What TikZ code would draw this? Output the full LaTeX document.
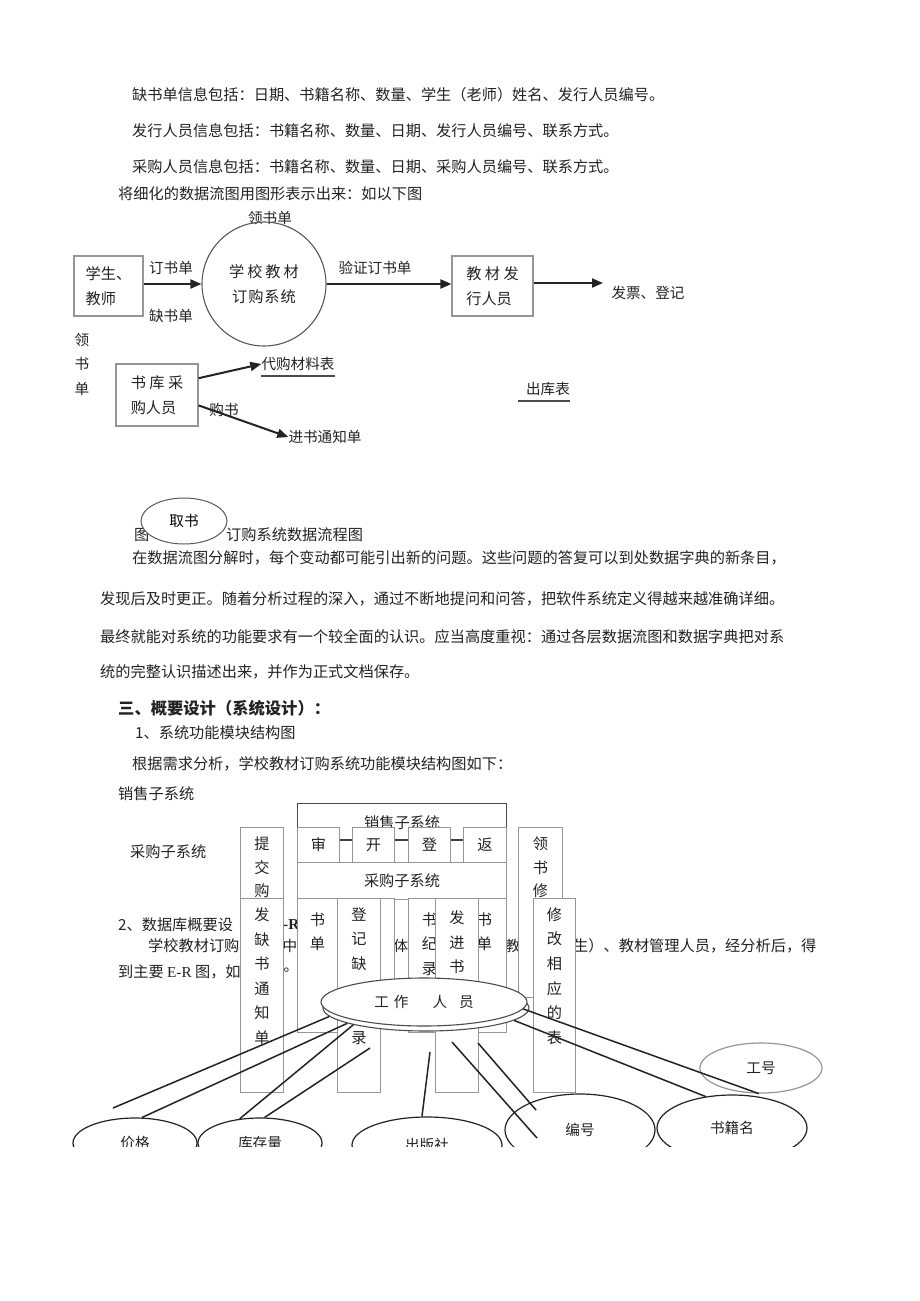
\documentclass[tikz,border=0pt]{standalone}
\usepackage{fontspec}
\setmainfont{Noto Sans CJK SC}
\newfontfamily\latinfont{Liberation Serif}
\usetikzlibrary{arrows.meta,positioning,shapes.geometric}
\definecolor{inkdark}{RGB}{35,35,35}
\definecolor{boxgray}{RGB}{150,150,150}
\tikzset{
  body/.style={anchor=west, inner sep=0pt, text=inkdark, font=\fontsize{15.2}{18}\selectfont},
  lbl/.style={inner sep=0pt, text=inkdark, font=\fontsize{14.6}{18}\selectfont},
  dfdbox/.style={rectangle, draw=boxgray, line width=1.1pt, fill=white, align=left,
                 inner sep=0pt, text=inkdark, font=\fontsize{15.2}{25}\selectfont},
  arr/.style={-{Triangle[length=11pt,width=9pt]}, line width=2pt, draw=inkdark},
  uline/.style={line width=2.2pt, draw=black!70},
  modbox/.style={rectangle, draw=boxgray, line width=1pt, fill=white, anchor=north west,
                 inner sep=0pt, text=inkdark, font=\fontsize{15.2}{18}\selectfont},
  vtext/.style={inner sep=0pt, align=center, text=inkdark, font=\fontsize{15.2}{24.6}\selectfont},
  link/.style={line width=1.6pt, draw=black!75},
  erline/.style={line width=1.5pt, draw=inkdark},
  attr/.style={ellipse, draw=inkdark, line width=1.2pt, inner sep=0pt, text=inkdark,
               font=\fontsize{14.6}{18}\selectfont},
}

\begin{document}
\begin{tikzpicture}[x=1pt, y=-1pt]
  \useasboundingbox[fill=white] (0,0) rectangle (920,1301);

  % text above the data flow diagram
  \node[body] (info1) at (132,95) {缺书单信息包括：日期、书籍名称、数量、学生（老师）姓名、发行人员编号。};
  \node[body] (info2) at (132,131) {发行人员信息包括：书籍名称、数量、日期、发行人员编号、联系方式。};
  \node[body] (info3) at (132,167) {采购人员信息包括：书籍名称、数量、日期、采购人员编号、联系方式。};
  \node[body] (intro) at (118,194) {将细化的数据流图用图形表示出来：如以下图};

  % data flow diagram
  \node[lbl] (lsd) at (270,218) {领书单};
  \node[dfdbox, minimum width=69pt, minimum height=60pt] (stu) at (108.5,286) {学生、\\教师};
  \node[circle, draw=black!65, line width=1.1pt, minimum size=124pt, inner sep=0pt,
        align=center, text=inkdark, font=\fontsize{15.2}{25}\selectfont] (sys) at (264,284)
        {学\hspace{3pt}校\hspace{3pt}教\hspace{3pt}材\\订\hspace{1pt}购\hspace{1pt}系\hspace{1pt}统};
  \node[dfdbox, minimum width=81pt, minimum height=60pt] (pub) at (492.5,286) {教 材 发\\行人员};
  \coordinate (invEnd) at (603,283);
  \node[lbl] (inv) at (648,293) {发票、登记};

  \draw[arr] (stu.east |- sys) -- (sys);
  \draw[arr] (sys.east) -- (sys.east -| pub.west);
  \draw[arr] (pub.east |- invEnd) -- (invEnd);
  \node[lbl] (dsd) at (171,268) {订书单};
  \node[lbl] (qsd) at (171,316) {缺书单};
  \node[lbl] (yzd) at (375,268) {验证订书单};

  \node[vtext, font=\fontsize{14.6}{24.5}\selectfont] (lsdv) at (82,364) {领\\书\\单};

  \node[dfdbox, minimum width=82pt, minimum height=62pt] (buyer) at (157,395) {书 库 采\\购人员};
  \node[lbl] (daigou) at (298,364) {代购材料表};
  \draw[uline] ([yshift=-5pt]daigou.south west) -- ([yshift=-5pt]daigou.south east);
  \node[lbl] (gs) at (224,410) {购书};
  \node[lbl] (jstz) at (325,437) {进书通知单};
  \draw[arr] (buyer.22) -- (daigou.west);
  \draw[arr] (buyer.-14) -- (jstz.west);

  \node[lbl] (ckb) at (548,389) {出库表};
  \draw[uline] ([yshift=-5pt]ckb.south west) ++(-8,0) -- ([yshift=-5pt]ckb.south east);

  \node[body] (capA) at (134,535) {图};
  \node[body] (capB) at (226,535) {订购系统数据流程图};
  \node[ellipse, draw=black!65, line width=1pt, fill=white, minimum width=86pt,
        minimum height=46pt, inner sep=0pt, text=black, font=\fontsize{14.6}{18}\selectfont]
        (qs) at (184,521) {取书};

  % paragraph
  \node[body] (p1) at (132,558) {在数据流图分解时，每个变动都可能引出新的问题。这些问题的答复可以到处数据字典的新条目，};
  \node[body] (p2) at (100,599) {发现后及时更正。随着分析过程的深入，通过不断地提问和问答，把软件系统定义得越来越准确详细。};
  \node[body] (p3) at (100,637) {最终就能对系统的功能要求有一个较全面的认识。应当高度重视：通过各层数据流图和数据字典把对系};
  \node[body] (p4) at (100,672) {统的完整认识描述出来，并作为正式文档保存。};

  \node[body, font=\fontsize{16.3}{18}\bfseries] (sec3) at (118,708) {三、概要设计（系统设计）：};
  \node[body] (sub1) at (135,733) {1、系统功能模块结构图};
  \node[body] (need) at (132,764) {根据需求分析，学校教材订购系统功能模块结构图如下：};
  \node[body] (xs) at (118,794) {销售子系统};
  \node[body] (cg) at (130,852) {采购子系统};

  % text seen between the modules
  \node[body] (sub2) at (118,925) {2、数据库概要设};
  \node[body, font=\fontsize{15.2}{18}\latinfont\bfseries] (erA) at (283,925) {-R};
  \node[body] (er2a) at (148,946) {学校教材订购};
  \node[lbl] (er2b) at (290,946) {中};
  \node[lbl] (er2c) at (401,946) {体};
  \node[lbl] (er2d) at (513,946) {教};
  \node[body] (er2e) at (573,946) {生）、教材管理人员，经分析后，得};
  \node[body] (er3a) at (118,972) {到主要 {\latinfont E-R} 图，如};
  \node[lbl] (er3b) at (291,970) {。};

  % module structure
  \node[modbox, draw=black!70, line width=1.3pt, minimum width=209pt, minimum height=37pt,
        text depth=0pt] (sales) at (297,803) {销售子系统};
  \node[modbox, minimum width=42pt, minimum height=35pt] (shen) at (297,827) {审};
  \node[modbox, minimum width=42pt, minimum height=35pt] (kai) at (352,827) {开};
  \node[modbox, minimum width=42pt, minimum height=35pt] (deng) at (408,827) {登};
  \node[modbox, minimum width=43pt, minimum height=35pt] (fan) at (463,827) {返};
  \draw[link] ([yshift=5pt]shen.east) -- ([yshift=5pt]kai.west);
  \draw[link] ([yshift=5pt]kai.east) -- ([yshift=5pt]deng.west);
  \draw[link] ([yshift=5pt]deng.east) -- ([yshift=5pt]fan.west);

  \node[modbox, minimum width=43pt, minimum height=90pt] (tjg) at (240,827) {};
  \node[vtext, font=\fontsize{15.2}{23.5}\selectfont, below=10pt of tjg.north] {提\\交\\购};
  \node[modbox, minimum width=44pt, minimum height=170pt] (lsx) at (518,827) {};
  \node[vtext, font=\fontsize{15.2}{23.5}\selectfont, below=10pt of lsx.north] {领\\书\\修};
  \node[modbox, minimum width=209pt, minimum height=37pt] (purch) at (297,862) {采购子系统};

  \node[modbox, minimum width=43pt, minimum height=194pt] (fqs) at (240,898) {};
  \node[vtext, below=9.4pt of fqs.north] {发\\缺\\书\\通\\知\\单};
  \node[modbox, minimum width=40pt, minimum height=134pt] (sdA) at (297,898) {};
  \node[vtext, below=14.4pt of sdA.north] {书\\单};
  \node[modbox, minimum width=34pt, minimum height=100pt] (blank) at (360,898) {};
  \node[modbox, minimum width=43pt, minimum height=194pt] (djq) at (337,898) {};
  \node[vtext, below=9.4pt of djq.north] {登\\记\\缺\\[49.2pt]录};
  \node[modbox, minimum width=42pt, minimum height=134pt] (sjl) at (408,898) {};
  \node[vtext, below=14.4pt of sjl.north] {书\\纪\\录};
  \node[modbox, minimum width=44pt, minimum height=134pt] (sdB) at (462,898) {};
  \node[vtext, below=14.4pt of sdB.north] {书\\单};
  \node[modbox, minimum width=43pt, minimum height=194pt] (fjs) at (435,898) {};
  \node[vtext, below=12.4pt of fjs.north] {发\\进\\书};
  \node[modbox, minimum width=42pt, minimum height=194pt] (xgb) at (533,898) {};
  \node[vtext, below=9.4pt of xgb.north] {修\\改\\相\\应\\的\\表};

  % E-R diagram
  \begin{scope}
    \clip (0,0) rectangle (920,1146);
    \node[ellipse, draw=black!70, line width=1.1pt, fill=white, minimum width=206pt,
          minimum height=46pt, inner sep=0pt] (workerb) at (426,1008) {};
    \node[ellipse, draw=black!70, line width=1.1pt, fill=white, minimum width=206pt,
          minimum height=48pt, inner sep=0pt, text=inkdark, font=\fontsize{14.6}{18}\selectfont]
          (worker) at (424,1002) {工\hspace{5pt}作\hspace{24pt}人\hspace{12pt}员};

    \node[attr, minimum width=124pt, minimum height=50pt] (price) at (135,1143) {价格};
    \node[attr, minimum width=124pt, minimum height=50pt] (stock) at (260,1143) {库存量};
    \node[attr, minimum width=150pt, minimum height=56pt] (press) at (427,1145) {出版社};
    \node[attr, minimum width=150pt, minimum height=72pt] (bh) at (580,1130) {编号};
    \node[attr, minimum width=150pt, minimum height=66pt] (sjm) at (732,1128) {书籍名};
    \node[attr, draw=boxgray, minimum width=122pt, minimum height=50pt] (gh) at (761,1068) {工号};

    \coordinate (e1) at (113,1108);
    \coordinate (f4a) at (370,1048);
    \coordinate (f5a) at (430,1052);
    \coordinate (f6a) at (452,1042);
    \coordinate (f6b) at (537,1138);
    \coordinate (f7a) at (478,1043);
    \coordinate (f7b) at (536,1110);
    \draw[erline] (workerb.185) -- (e1);
    \draw[erline] (workerb.191) -- (price.75);
    \draw[erline] (workerb.193) -- (stock.130);
    \draw[erline] (f4a) -- (stock.80);
    \draw[erline] (f5a) -- (press.100);
    \draw[erline] (f6a) -- (f6b);
    \draw[erline] (f7a) -- (f7b);
    \draw[erline] (worker.-4) -- (gh.265);
    \draw[erline] (workerb.-8) -- (sjm.130);
  \end{scope}
\end{tikzpicture}
\end{document}
